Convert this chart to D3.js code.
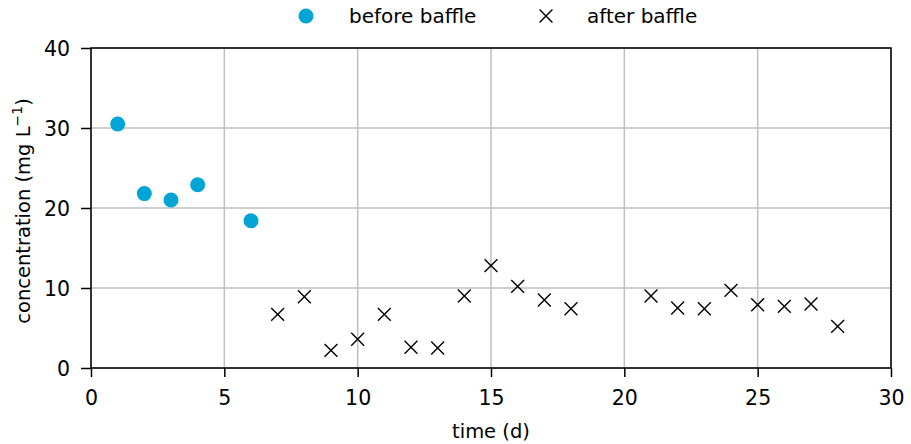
<!DOCTYPE html>
<html>
<head>
<meta charset="utf-8">
<script src="https://cdn.jsdelivr.net/npm/d3@7"></script>
<style>
  html, body { margin: 0; padding: 0; background: #fff; }
  svg { display: block; font-family: "DejaVu Sans", Verdana, sans-serif; }
</style>
</head>
<body>
<svg id="chart" width="911" height="444"></svg>
<script>
// Concentration over time, before and after the baffle was installed
const beforeDays = [1, 2, 3, 4, 6];
const beforeConc = [30.5, 21.8, 21.0, 22.9, 18.4];
const afterDays = [7, 8, 9, 10, 11, 12, 13, 14, 15, 16, 17, 18, 21, 22, 23, 24, 25, 26, 27, 28];
const afterConc = [6.7, 8.9, 2.2, 3.6, 6.7, 2.6, 2.5, 9.0, 12.8, 10.2, 8.5, 7.4, 9.0, 7.5, 7.4, 9.7, 7.9, 7.7, 8.0, 5.2];
const xTicks = [0, 5, 10, 15, 20, 25, 30];
const yTicks = [0, 10, 20, 30, 40];

const svg = d3.select("#chart");
const margin = { left: 91, right: 20, top: 48, bottom: 76 };
const W = 911, H = 444;
const x = d3.scaleLinear().domain([0, 30]).range([margin.left, W - margin.right]);
const y = d3.scaleLinear().domain([0, 40]).range([H - margin.bottom, margin.top]);

const gridColor = "#bfbfbf";
const blue = "#00a5d6";
const fontSize = 20.5;

// grid
svg.append("g").selectAll("line").data(xTicks).join("line")
  .attr("x1", d => x(d)).attr("x2", d => x(d))
  .attr("y1", y(0)).attr("y2", y(40))
  .attr("stroke", gridColor).attr("stroke-width", 1.5);
svg.append("g").selectAll("line").data(yTicks).join("line")
  .attr("x1", x(0)).attr("x2", x(30))
  .attr("y1", d => y(d)).attr("y2", d => y(d))
  .attr("stroke", gridColor).attr("stroke-width", 1.5);

// frame
svg.append("rect")
  .attr("x", x(0)).attr("y", y(40))
  .attr("width", x(30) - x(0)).attr("height", y(0) - y(40))
  .attr("fill", "none").attr("stroke", "#000").attr("stroke-width", 1.5);

// axes
const xAxis = svg.append("g").attr("transform", `translate(0,${y(0)})`)
  .call(d3.axisBottom(x).tickValues(xTicks).tickSize(9).tickPadding(13).tickFormat(d3.format("d")));
const yAxis = svg.append("g").attr("transform", `translate(${x(0)},0)`)
  .call(d3.axisLeft(y).tickValues(yTicks).tickSize(10).tickPadding(11).tickFormat(d3.format("d")));
[xAxis, yAxis].forEach(g => {
  g.select(".domain").remove();
  g.selectAll(".tick line").attr("stroke", "#000").attr("stroke-width", 1.5);
  g.selectAll(".tick text").attr("font-family", "DejaVu Sans, Verdana, sans-serif")
    .attr("font-size", fontSize).attr("fill", "#000");
});
yAxis.selectAll(".tick text").attr("dy", "0.36em");

// axis titles
svg.append("text").attr("x", x(15)).attr("y", 438)
  .attr("text-anchor", "middle").attr("font-size", 19.5).text("time (d)");
const yl = svg.append("text")
  .attr("transform", `translate(30,211) rotate(-90)`)
  .attr("text-anchor", "middle").attr("font-size", 19.5);
yl.append("tspan").text("concentration (mg L");
yl.append("tspan").attr("dy", -8).attr("font-size", 14).text("\u22121");
yl.append("tspan").attr("dy", 8).text(")");

// before baffle: circles
svg.append("g").selectAll("circle").data(beforeDays).join("circle")
  .attr("cx", d => x(d)).attr("cy", (d, i) => y(beforeConc[i]))
  .attr("r", 7.5).attr("fill", blue);

// after baffle: crosses
const cross = d3.symbol().type(d3.symbolTimes).size(110);
svg.append("g").selectAll("path").data(afterDays).join("path")
  .attr("transform", (d, i) => `translate(${x(d)},${y(afterConc[i])})`)
  .attr("d", cross).attr("fill", "none").attr("stroke", "#000").attr("stroke-width", 1.4);

// legend
const lg = svg.append("g").attr("font-size", 20);
lg.append("circle").attr("cx", 306).attr("cy", 16).attr("r", 7.5).attr("fill", blue);
lg.append("text").attr("x", 349).attr("y", 23).text("before baffle");
lg.append("path").attr("transform", "translate(546,16)").attr("d", cross)
  .attr("fill", "none").attr("stroke", "#000").attr("stroke-width", 1.4);
lg.append("text").attr("x", 587).attr("y", 23).text("after baffle");
</script>
</body>
</html>
